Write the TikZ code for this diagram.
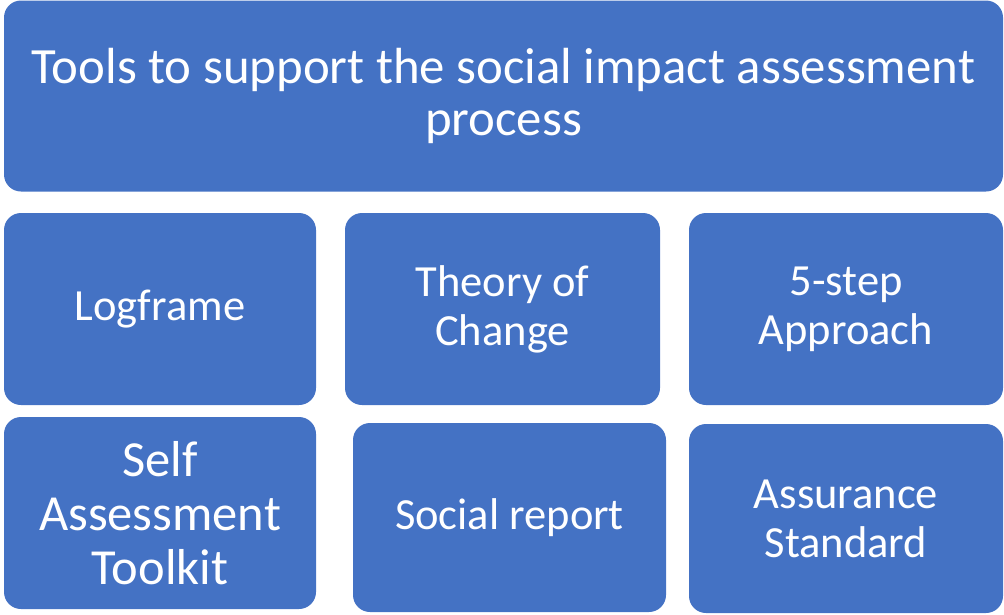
\documentclass[tikz,border=0pt]{standalone}
\usepackage{fontspec}
\setmainfont{Carlito}
\definecolor{boxblue}{HTML}{4472C4}
\begin{document}
\begin{tikzpicture}[x=1pt,y=-1pt,
  tile/.style={fill=boxblue, draw=none, rounded corners=17pt, text=white,
    align=center, inner sep=0pt},
  small/.style={tile, font=\fontsize{44.5}{49}\selectfont}]
  \useasboundingbox (0,0) rectangle (1004,614);
  % heading tile
  \node[tile, minimum width=999pt, minimum height=191pt,
        font=\fontsize{50.8}{52.5}\selectfont] (head) at (503.5,96)
       {Tools to support the social impact assessment\\process};
  % middle row
  \node[small, minimum width=312pt, minimum height=192pt] (logframe) at (160,309) {Logframe};
  \node[small, minimum width=315pt, minimum height=192pt] (toc) at (502.5,309) {Theory of\\Change};
  \node[small, minimum width=314pt, minimum height=192pt] (fivestep) at (846,309) {5-step\\Approach};
  % bottom row
  \node[tile, minimum width=312pt, minimum height=192pt,
        font=\fontsize{50.5}{54}\selectfont] (toolkit) at (160,513) {Self\\Assessment\\Toolkit};
  \node[small, minimum width=313pt, minimum height=189pt] (report) at (509.5,517.5) {Social report};
  \node[small, minimum width=314pt, minimum height=189pt] (assurance) at (846,518.5) {Assurance\\Standard};
\end{tikzpicture}
\end{document}
